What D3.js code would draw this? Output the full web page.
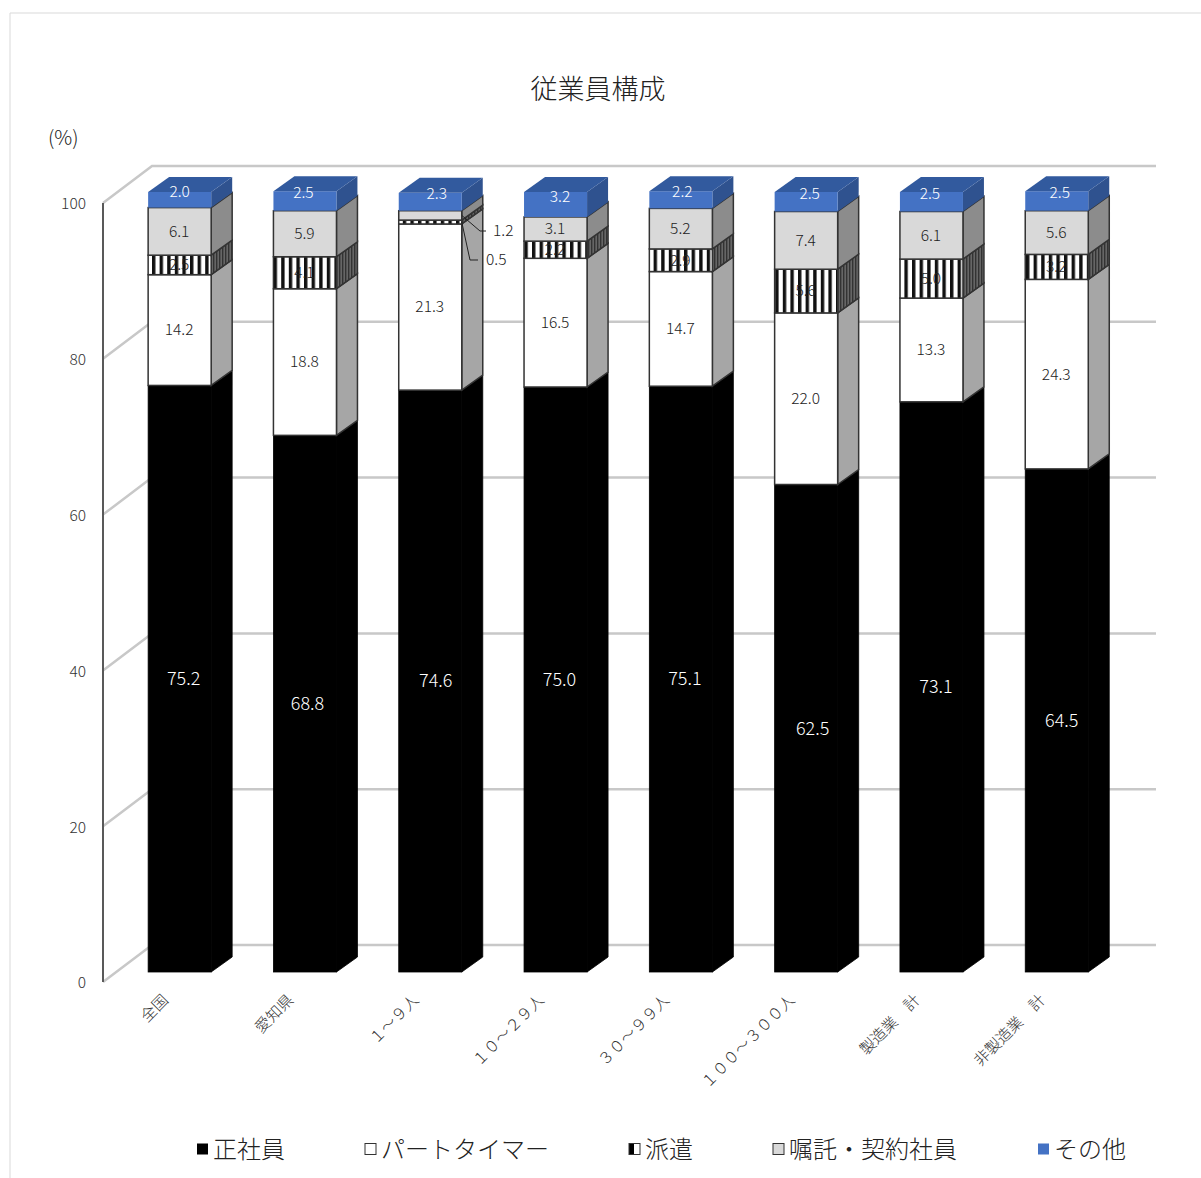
<!DOCTYPE html>
<html>
<head>
<meta charset="utf-8">
<script src="https://cdnjs.cloudflare.com/ajax/libs/d3/7.8.5/d3.min.js"></script>
<style>
  html, body { margin: 0; background: #fff; }
  svg { display: block; }
  text { font-family: "Noto Sans CJK JP", sans-serif; font-weight: 300; }
</style>
</head>
<body>
<svg id="chart" width="1201" height="1178"></svg>
<script>
// full-width digits, wave dash and ideographic space as in the source workbook
const categories = ["全国", "愛知県", "\uFF11\uFF5E\uFF19人", "\uFF11\uFF10\uFF5E\uFF12\uFF19人", "\uFF13\uFF10\uFF5E\uFF19\uFF19人", "\uFF11\uFF10\uFF10\uFF5E\uFF13\uFF10\uFF10人", "製造業\u3000計", "非製造業\u3000計"];
const seriesNames = ["正社員", "パートタイマー", "派遣", "嘱託・契約社員", "その他"];
const regular = [75.2, 68.8, 74.6, 75.0, 75.1, 62.5, 73.1, 64.5];
const partTime = [14.2, 18.8, 21.3, 16.5, 14.7, 22.0, 13.3, 24.3];
const dispatched = [2.5, 4.1, 0.5, 2.2, 2.9, 5.6, 5.0, 3.2];
const contract = [6.1, 5.9, 1.2, 3.1, 5.2, 7.4, 6.1, 5.6];
const other = [2.0, 2.5, 2.3, 3.2, 2.2, 2.5, 2.5, 2.5];
const yTicks = [0, 20, 40, 60, 80, 100];

const series = [regular, partTime, dispatched, contract, other];

const svg = d3.select("#chart");
const defs = svg.append("defs");

const stripes = defs.append("pattern").attr("id", "stripes")
  .attr("patternUnits", "userSpaceOnUse").attr("width", 7.6).attr("height", 10);
stripes.append("rect").attr("width", 7.6).attr("height", 10).attr("fill", "#fff");
stripes.append("rect").attr("width", 3.4).attr("height", 10).attr("fill", "#111");

const sideStripes = defs.append("pattern").attr("id", "sideStripes")
  .attr("patternUnits", "userSpaceOnUse").attr("width", 3).attr("height", 10);
sideStripes.append("rect").attr("width", 3).attr("height", 10).attr("fill", "#666");
sideStripes.append("rect").attr("width", 1.4).attr("height", 10).attr("fill", "#333");

const half = defs.append("linearGradient").attr("id", "half");
half.append("stop").attr("offset", "50%").attr("stop-color", "#000");
half.append("stop").attr("offset", "50%").attr("stop-color", "#fff");

const front = ["#000", "#fff", "url(#stripes)", "#d9d9d9", "#4472c4"];
const side = ["#000", "#a6a6a6", "url(#sideStripes)", "#8c8c8c", "#2f528f"];
const swatch = ["#000", "#fff", "url(#half)", "#d9d9d9", "#4472c4"];
const labelColor = ["#fff", "#222", "#222", "#222", "#fff"];
const outlineColor = ["#000", "#333", "#333", "#333", "none"];
const outlineWidth = [0.8, 1.5, 1.5, 1.5, 0];

// layout of the fake 3d box
const wallDx = 49, wallDy = 37;
const barDx = 21, barDy = 15;

const x = d3.scaleBand().domain(categories).range([117, 1119.4])
  .paddingInner(0.497).paddingOuter(0.2485);
const axisY = d3.scaleLinear().domain([0, 100]).range([982, 203]);
const barY = d3.scaleLinear().domain([0, 100]).range([972, 192]);

// hand-placed labels in the original sit off centre
const regularNudge = [4.5, 3, 6, 4.5, 4.5, 7, 5, 5.5];
const otherNudge = [0.5, -1, 7, 5, 2, 4, -1, 3.5];

// border of the chart area
svg.append("path").attr("d", "M10,1178V13H1201")
  .attr("fill", "none").attr("stroke", "#d9d9d9").attr("stroke-width", 1);

/////////////////////////////////////////////////////////
// WALLS

const axisX = 103, wallX = axisX + wallDx, wallEnd = 1156;

svg.append("g").selectAll("path").data(yTicks).enter().append("path")
  .attr("d", d => `M${axisX},${axisY(d)}L${wallX},${axisY(d) - wallDy}H${wallEnd}`)
  .attr("fill", "none")
  .attr("stroke", "#c8c8c8")
  .attr("stroke-width", 2.5);

svg.append("line")
  .attr("x1", axisX).attr("x2", axisX)
  .attr("y1", axisY(0)).attr("y2", axisY(100))
  .attr("stroke", "#595959").attr("stroke-width", 2);

const yAxis = d3.axisLeft(axisY).tickValues(yTicks).tickSize(0).tickPadding(0);
const yAxisG = svg.append("g").attr("transform", `translate(86,1)`).call(yAxis);
yAxisG.select(".domain").remove();
yAxisG.selectAll("text")
  .attr("font-size", 15.5)
  .attr("fill", "#333")
  .style("font-family", '"Noto Sans CJK JP", sans-serif');

/////////////////////////////////////////////////////////
// BARS

const bw = x.bandwidth();

categories.forEach((cat, c) => {
  const g = svg.append("g").attr("class", "bar");
  const x0 = x(cat), x1 = x0 + bw;
  let total = 0;

  series.forEach((values, s) => {
    const top = total + values[c];
    const y0 = barY(total), y1 = barY(top);

    g.append("path")
      .attr("d", `M${x1},${y0}L${x1 + barDx},${y0 - barDy}V${y1 - barDy}L${x1},${y1}Z`)
      .attr("fill", side[s])
      .attr("stroke", outlineColor[s]).attr("stroke-width", outlineWidth[s]);

    g.append("rect")
      .attr("x", x0).attr("y", y1)
      .attr("width", bw).attr("height", y0 - y1)
      .attr("fill", front[s])
      .attr("stroke", outlineColor[s]).attr("stroke-width", outlineWidth[s]);

    if (s === 4) {
      g.append("path")
        .attr("d", `M${x0},${y1}L${x0 + barDx},${y1 - barDy}H${x1 + barDx}L${x1},${y1}Z`)
        .attr("fill", "#325a9e");
    }
    total = top;
  });
});

/////////////////////////////////////////////////////////
// VALUE LABELS

const labels = svg.append("g").attr("text-anchor", "middle");
// the two thin segments of 1~9人 are labelled outside the bar
const leaders = { "2": [470, 260, 478, 486], "3": [480, 231, 486, 493] };
const smallBar = 2;

categories.forEach((cat, c) => {
  const cx = x(cat) + bw / 2 - 0.5;
  let total = 0;

  series.forEach((values, s) => {
    const v = values[c];
    const mid = barY(total + v / 2);
    total += v;

    if (c === smallBar && leaders[s]) {
      const [kx, ky, ex, tx] = leaders[s];
      svg.append("path")
        .attr("d", `M${x(cat) + bw},${mid}L${kx},${ky}H${ex}`)
        .attr("fill", "none").attr("stroke", "#222").attr("stroke-width", 1);
      labels.append("text")
        .attr("x", tx).attr("y", ky)
        .attr("dy", "0.35em")
        .attr("text-anchor", "start")
        .attr("font-size", 15.5)
        .attr("fill", "#222")
        .text(v.toFixed(1));
      return;
    }

    labels.append("text")
      .attr("x", s === 0 ? cx + regularNudge[c] : (s === 4 ? cx + otherNudge[c] : cx))
      .attr("y", s === 4 ? mid - 8 : mid)
      .attr("dy", "0.35em")
      .attr("font-size", s === 0 ? 18 : 15.5)
      .attr("fill", labelColor[s])
      .text(v.toFixed(1));
  });
});

/////////////////////////////////////////////////////////
// CATEGORY LABELS

svg.append("g").selectAll("text").data(categories).enter().append("text")
  .attr("transform", d => `translate(${x(d) + 21},${1001}) rotate(-45)`)
  .attr("text-anchor", "end")
  .attr("font-size", 15.5)
  .attr("fill", "#333")
  .text(d => d);

/////////////////////////////////////////////////////////
// TITLE + UNIT

svg.append("text")
  .attr("x", 598).attr("y", 99)
  .attr("text-anchor", "middle")
  .attr("font-size", 27)
  .attr("fill", "#222")
  .text("従業員構成");

svg.append("text")
  .attr("x", 48).attr("y", 145)
  .attr("font-size", 20)
  .attr("fill", "#222")
  .text("(%)");

/////////////////////////////////////////////////////////
// LEGEND

const legendX = d3.scaleOrdinal().domain(seriesNames).range([197, 365, 629, 773, 1038]);

const legend = svg.append("g").selectAll("g").data(seriesNames).enter().append("g")
  .attr("transform", d => `translate(${legendX(d)},1149)`);

legend.append("rect")
  .attr("y", -5.5).attr("width", 11).attr("height", 11)
  .attr("fill", (d, i) => swatch[i])
  .attr("stroke", (d, i) => i === 1 || i === 2 || i === 3 ? "#333" : "none")
  .attr("stroke-width", 1);

legend.append("text")
  .attr("x", 16).attr("y", 9)
  .attr("font-size", 24)
  .attr("fill", "#222")
  .text(d => d);
</script>
</body>
</html>
